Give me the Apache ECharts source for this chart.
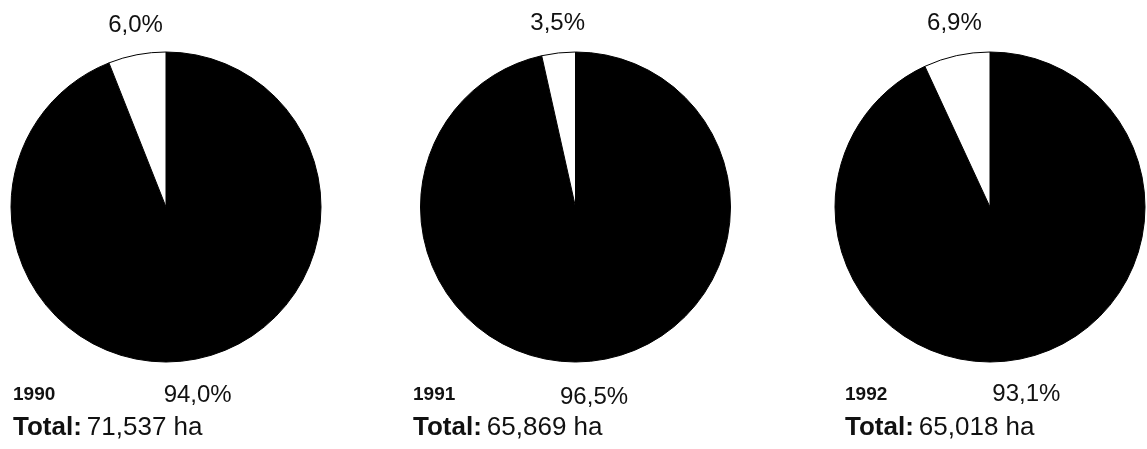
<!DOCTYPE html>
<html><head><meta charset="utf-8">
<script src="https://cdn.jsdelivr.net/npm/echarts@6/dist/echarts.min.js"></script>
<style>html,body{margin:0;padding:0;background:#fff}#c{width:1147px;height:449px}</style>
</head><body><div id="c"></div>
<script>
// ---- data ----
const years = ['1990', '1991', '1992'];
const mainShare = [94.0, 96.5, 93.1];   // black slice (%)
const otherShare = [6.0, 3.5, 6.9];     // white slice (%)
const totals = ['71,537', '65,869', '65,018'];

// ---- layout ----
const centersX = [166, 575.5, 990];
const centerY = 207;
const radius = 155;
const textLeft = [13, 413, 845];

const fmt = v => v.toFixed(1).replace('.', ',') + '%';
const pctFont = { fontFamily: 'Liberation Sans, Arial, sans-serif', fontSize: 24, color: '#111' };

const series = years.map((y, i) => ({
  type: 'pie',
  center: [centersX[i], centerY],
  radius: radius,
  startAngle: 90,
  clockwise: true,
  avoidLabelOverlap: false,
  silent: true,
  animation: false,
  label: {
    show: true, position: 'outside', distanceToLabelLine: 0,
    formatter: p => fmt(p.value), ...pctFont
  },
  labelLine: { show: false, length: 30, length2: 0 },
  labelLayout: function (p) {
    const cx = centersX[p.seriesIndex];
    const r = p.labelRect;
    const mid = r.x + r.width / 2;
    const anchor = mid < cx ? r.x + r.width : r.x;
    return { x: cx + (anchor - cx) * 0.88, align: 'center' };
  },
  data: [
    { name: 'main', value: mainShare[i],
      itemStyle: { color: '#000', borderColor: '#000', borderWidth: 1 },
      labelLine: { show: false, length: 37, length2: 0 } },
    { name: 'other', value: otherShare[i],
      itemStyle: { color: '#fff', borderColor: '#000', borderWidth: 1 },
      labelLine: { show: false, length: i === 2 ? 33 : 30, length2: 0 } }
  ]
}));

const titles = [];
years.forEach((y, i) => {
  titles.push({
    left: textLeft[i], top: 385, padding: 0,
    text: y,
    textStyle: { fontFamily: 'Liberation Sans Narrow, Liberation Sans, Arial, sans-serif', fontWeight: 'bold', fontSize: 19, color: '#111' }
  });
  titles.push({
    left: textLeft[i], top: 415, padding: 0,
    text: '{b|Total:} {n|' + totals[i] + ' ha}',
    textStyle: {
      fontWeight: 'normal',
      rich: {
        b: { fontFamily: 'Liberation Sans, Arial, sans-serif', fontWeight: 'bold', fontSize: 26, color: '#111' },
        n: { fontFamily: 'Liberation Sans, Arial, sans-serif', fontWeight: 'normal', fontSize: 26, color: '#111' }
      }
    }
  });
});

const chart = echarts.init(document.getElementById('c'), null, { renderer: 'canvas' });
chart.setOption({
  backgroundColor: '#fff',
  animation: false,
  title: titles,
  series: series
});
</script>
</body></html>
